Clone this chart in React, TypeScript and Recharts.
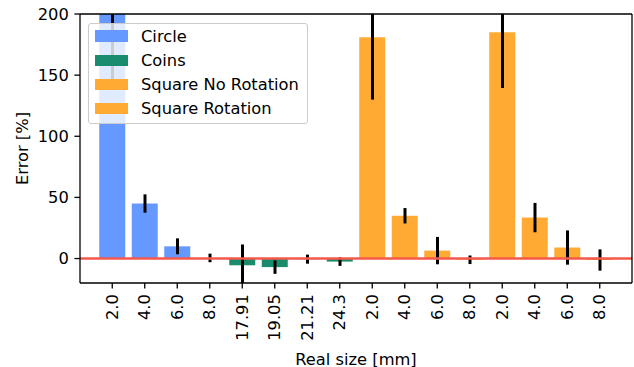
import React from 'react';
import { BarChart, Bar, XAxis, YAxis, Cell, ReferenceLine, Legend, Label } from 'recharts';

// Relative error per object size, one array per shape family
const circleSizes = ['2.0', '4.0', '6.0', '8.0'];
const circleErrors = [215, 45, 10, 0.5];
const circleSpread = [77, 7.5, 6.5, 3.5];

const coinSizes = ['17.91', '19.05', '21.21', '24.3'];
const coinErrors = [-5.5, -7, -0.5, -2.5];
const coinSpread = [17, 5.5, 3.7, 3.5];

const squareNoRotSizes = ['2.0', '4.0', '6.0', '8.0'];
const squareNoRotErrors = [181, 35, 6.5, -1];
const squareNoRotSpread = [51, 6.3, 11.2, 3.5];

const squareRotSizes = ['2.0', '4.0', '6.0', '8.0'];
const squareRotErrors = [185, 33.5, 9, -1.2];
const squareRotSpread = [45.5, 12, 14, 8.7];

const yTicks = [0, 50, 100, 150, 200];
const yDomain = [-20, 200];

const groups = [
  { name: 'Circle', color: '#6699ff', sizes: circleSizes, values: circleErrors, spread: circleSpread },
  { name: 'Coins', color: '#1a8c6e', sizes: coinSizes, values: coinErrors, spread: coinSpread },
  { name: 'Square No Rotation', color: '#ffab33', sizes: squareNoRotSizes, values: squareNoRotErrors, spread: squareNoRotSpread },
  { name: 'Square Rotation', color: '#ffab33', sizes: squareRotSizes, values: squareRotErrors, spread: squareRotSpread },
];

const rows = groups.flatMap((g, gi) =>
  g.sizes.map((size, i) => ({
    key: `${gi}-${i}`,
    size,
    error: g.values[i],
    spread: g.spread[i],
    color: g.color,
  }))
);

// whisker extent: value ± spread, drawn as a thin floating bar so it is clipped to the plot
const whisker = (r: { error: number; spread: number }) => [r.error - r.spread, r.error + r.spread];

const FONT = '"DejaVu Sans", Verdana, sans-serif';
const FONT_SIZE = 16.3;
const SPINE = { stroke: '#000', strokeWidth: 1.3 };

const SizeTick = ({ x, y, payload }: any) => {
  const row = rows.find((r) => r.key === payload.value);
  return (
    <text
      x={x}
      y={y}
      transform={`rotate(-90 ${x} ${y})`}
      textAnchor="end"
      dominantBaseline="central"
      fontSize={FONT_SIZE}
      fill="#000"
    >
      {row ? row.size : ''}
    </text>
  );
};

const LegendBox = () => (
  <div
    style={{
      boxSizing: 'border-box',
      width: 220,
      height: 101,
      paddingTop: 0,
      paddingLeft: 6,
      background: 'rgba(255,255,255,0.8)',
      border: '1px solid #cccccc',
      borderRadius: 3,
      fontFamily: FONT,
      fontSize: FONT_SIZE,
      color: '#000',
    }}
  >
    {groups.map((g) => (
      <div key={g.name} style={{ display: 'flex', alignItems: 'center', height: 24.2 }}>
        <span style={{ display: 'inline-block', width: 33, height: 11.5, background: g.color, marginRight: 13 }} />
        <span style={{ whiteSpace: 'nowrap' }}>{g.name}</span>
      </div>
    ))}
  </div>
);

export default function App() {
  return (
    <div style={{ position: 'absolute', left: 0, top: 0, fontFamily: FONT }}>
      <BarChart
        width={634}
        height={367}
        data={rows}
        margin={{ top: 13, right: 1, bottom: 24, left: 0 }}
        barCategoryGap="10%"
      >
        <XAxis
          dataKey="key"
          height={60}
          padding={{ left: 16, right: 16 }}
          interval={0}
          tick={<SizeTick />}
          tickSize={5.6}
          tickMargin={5.6}
          axisLine={SPINE}
          tickLine={SPINE}
        >
          <Label
            content={(p: any) => {
              const vb = p.viewBox;
              return (
                <text x={vb.x + vb.width / 2} y={vb.y + 76} textAnchor="middle" dominantBaseline="central" fontSize={FONT_SIZE} fill="#000">
                  Real size [mm]
                </text>
              );
            }}
          />
        </XAxis>
        <XAxis
          xAxisId="top"
          orientation="top"
          dataKey="key"
          height={1}
          padding={{ left: 16, right: 16 }}
          tick={false}
          tickLine={false}
          axisLine={SPINE}
        />
        <YAxis
          width={80}
          domain={yDomain}
          ticks={yTicks}
          allowDataOverflow
          tick={{ fill: '#000', fontSize: FONT_SIZE }}
          tickSize={5.6}
          tickMargin={5.6}
          axisLine={SPINE}
          tickLine={SPINE}
        >
          <Label
            content={(p: any) => {
              const vb = p.viewBox;
              const cx = vb.x + 22;
              const cy = vb.y + vb.height / 2;
              return (
                <text x={cx} y={cy} transform={`rotate(-90 ${cx} ${cy})`} textAnchor="middle" dominantBaseline="central" fontSize={FONT_SIZE} fill="#000">
                  Error [%]
                </text>
              );
            }}
          />
        </YAxis>
        <YAxis
          yAxisId="right"
          orientation="right"
          width={1}
          domain={yDomain}
          allowDataOverflow
          tick={false}
          tickLine={false}
          axisLine={SPINE}
        />
        <Bar dataKey="error" isAnimationActive={false}>
          {rows.map((r) => (
            <Cell key={r.key} fill={r.color} />
          ))}
        </Bar>
        <ReferenceLine y={0} stroke="#f5594b" strokeWidth={2.6} />
        <Bar
          dataKey={whisker}
          xAxisId="top"
          yAxisId="right"
          barSize={3}
          fill="#000"
          legendType="none"
          isAnimationActive={false}
        />
        <Legend
          layout="vertical"
          align="center"
          verticalAlign="middle"
          wrapperStyle={{ left: 88, top: 23, width: 'auto', height: 'auto' }}
          content={() => <LegendBox />}
        />
      </BarChart>
    </div>
  );
}
